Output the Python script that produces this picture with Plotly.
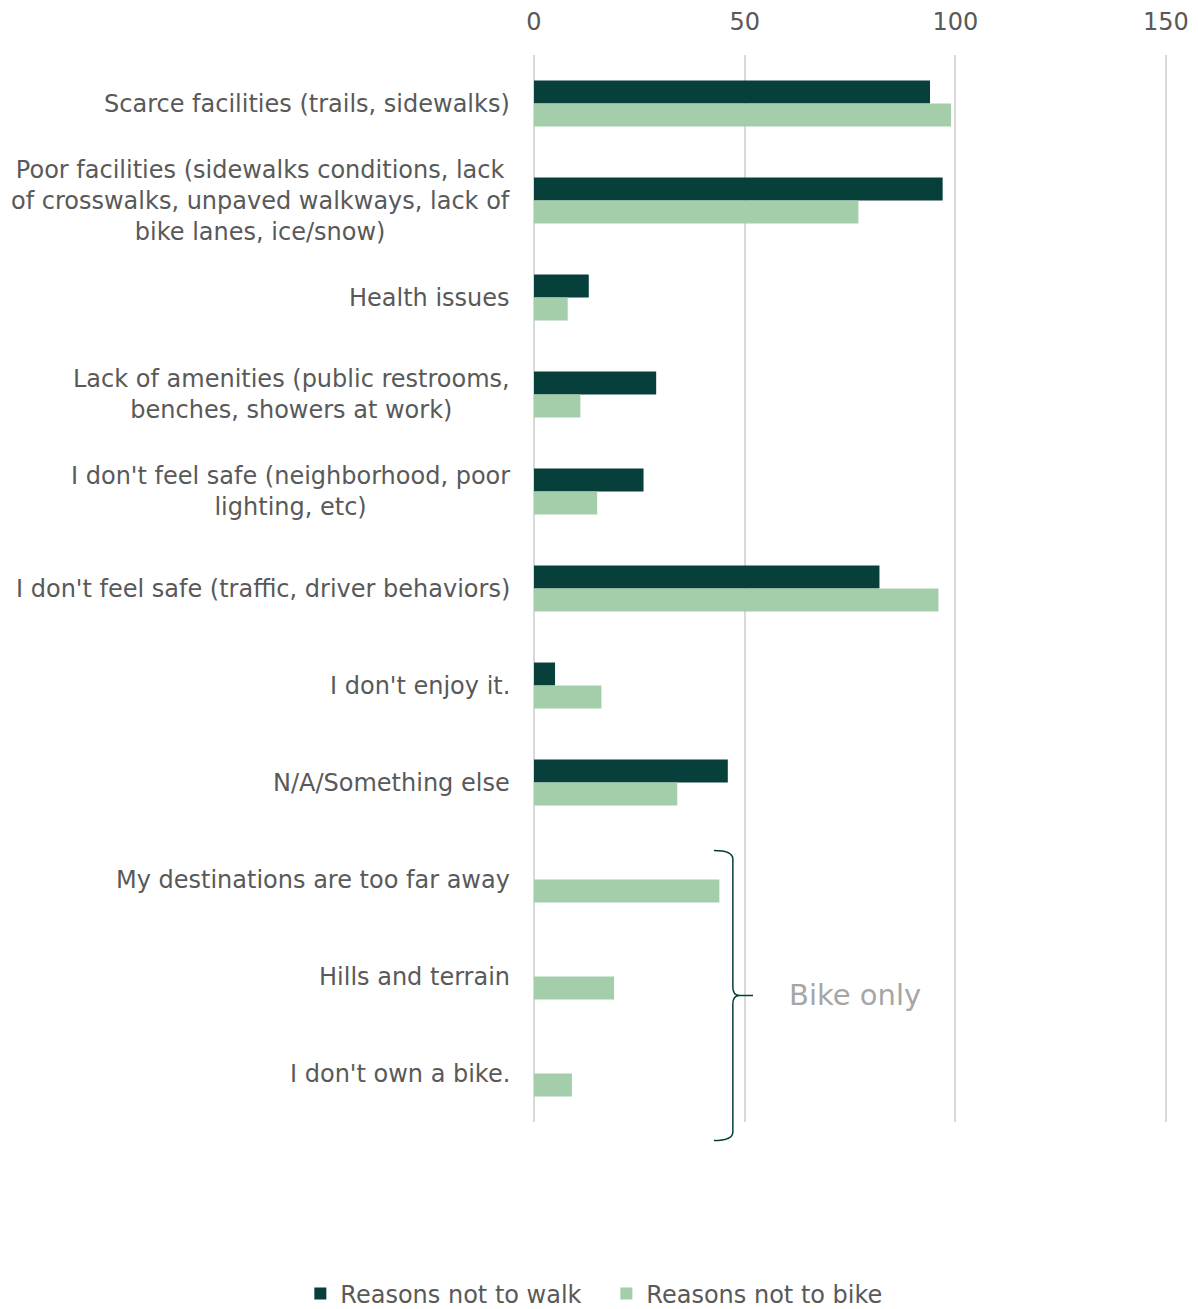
import plotly.graph_objects as go

categories = [
    "Scarce facilities (trails, sidewalks)",
    "Poor facilities (sidewalks conditions, lack<br>of crosswalks, unpaved walkways, lack of<br>bike lanes, ice/snow)",
    "Health issues",
    "Lack of amenities (public restrooms,<br>benches, showers at work)",
    "I don't feel safe (neighborhood, poor<br>lighting, etc)",
    "I don't feel safe (traffic, driver behaviors)",
    "I don't enjoy it.",
    "N/A/Something else",
    "My destinations are too far away",
    "Hills and terrain",
    "I don't own a bike.",
]
walk_values = [94, 97, 13, 29, 26, 82, 5, 46, None, None, None]
bike_values = [99, 77, 8, 11, 15, 96, 16, 34, 44, 19, 9]
x_ticks = [0, 50, 100, 150]
series_names = ["Reasons not to walk", "Reasons not to bike"]

WALK = "#073F3A"
BIKE = "#A4CDAA"
TEXT = "#595959"
FONT = "Verdana, DejaVu Sans, sans-serif"

fig = go.Figure()
fig.add_trace(go.Bar(y=categories, x=walk_values, name=series_names[0], orientation="h",
                     marker=dict(color=WALK, line=dict(width=0))))
fig.add_trace(go.Bar(y=categories, x=bike_values, name=series_names[1], orientation="h",
                     marker=dict(color=BIKE, line=dict(width=0))))

annotations = []
for c in categories:
    annotations.append(dict(xref="paper", yref="y", x=0, y=c, text=c, showarrow=False,
                            xanchor="right", yanchor="middle", align="center", xshift=-22,
                            font=dict(family=FONT, size=24, color=TEXT)))

n = len(categories)
def py(idx):
    return 1 - (idx + 0.5) / n

# brace spanning the bike-only categories
yt = py(7.70)
yb = py(10.69)
ym = (yt + yb) / 2
x0, x1, xm, x2 = 42.7, 47.2, 48.8, 52.0
d = 0.008
path = (f"M {x0},{yt} Q {x1},{yt} {x1},{yt-d} L {x1},{ym+d} Q {x1},{ym} {xm},{ym} L {x2},{ym} "
        f"M {xm},{ym} Q {x1},{ym} {x1},{ym-d} L {x1},{yb+d} Q {x1},{yb} {x0},{yb}")
fig.add_shape(type="path", path=path, xref="x", yref="paper",
              line=dict(color=WALK, width=1.5))
annotations.append(dict(xref="x", yref="paper", x=76.2, y=ym, text="Bike only", showarrow=False,
                        xanchor="center", yanchor="middle",
                        font=dict(family=FONT, size=29, color="#A6A6A6")))

fig.update_layout(
    width=1198, height=1309,
    margin=dict(l=534, r=31, t=55, b=187, autoexpand=False),
    paper_bgcolor="white", plot_bgcolor="white",
    barmode="group", bargap=0.526, bargroupgap=0,
    font=dict(family=FONT, color=TEXT, size=24),
    annotations=annotations,
    showlegend=True,
    legend=dict(orientation="h", x=0.1143, xanchor="center", y=-0.161, yanchor="middle",
                font=dict(family=FONT, size=24, color=TEXT), traceorder="normal",
                itemwidth=30, entrywidth=261),
    xaxis=dict(side="top", range=[0, 150.25], tickvals=x_ticks, showgrid=True,
               gridcolor="#D9D9D9", gridwidth=1.5, zeroline=True, zerolinecolor="#D9D9D9",
               zerolinewidth=1.5, showline=False, ticks="", ticklabelstandoff=19,
               tickfont=dict(family=FONT, size=24, color=TEXT)),
    yaxis=dict(categoryorder="array", categoryarray=categories, autorange="reversed",
               showticklabels=False, showgrid=False, zeroline=False, showline=False, ticks=""),
)

fig.write_html("out.html", post_script="document.body.style.margin='0px';",
               config={"displayModeBar": False})
